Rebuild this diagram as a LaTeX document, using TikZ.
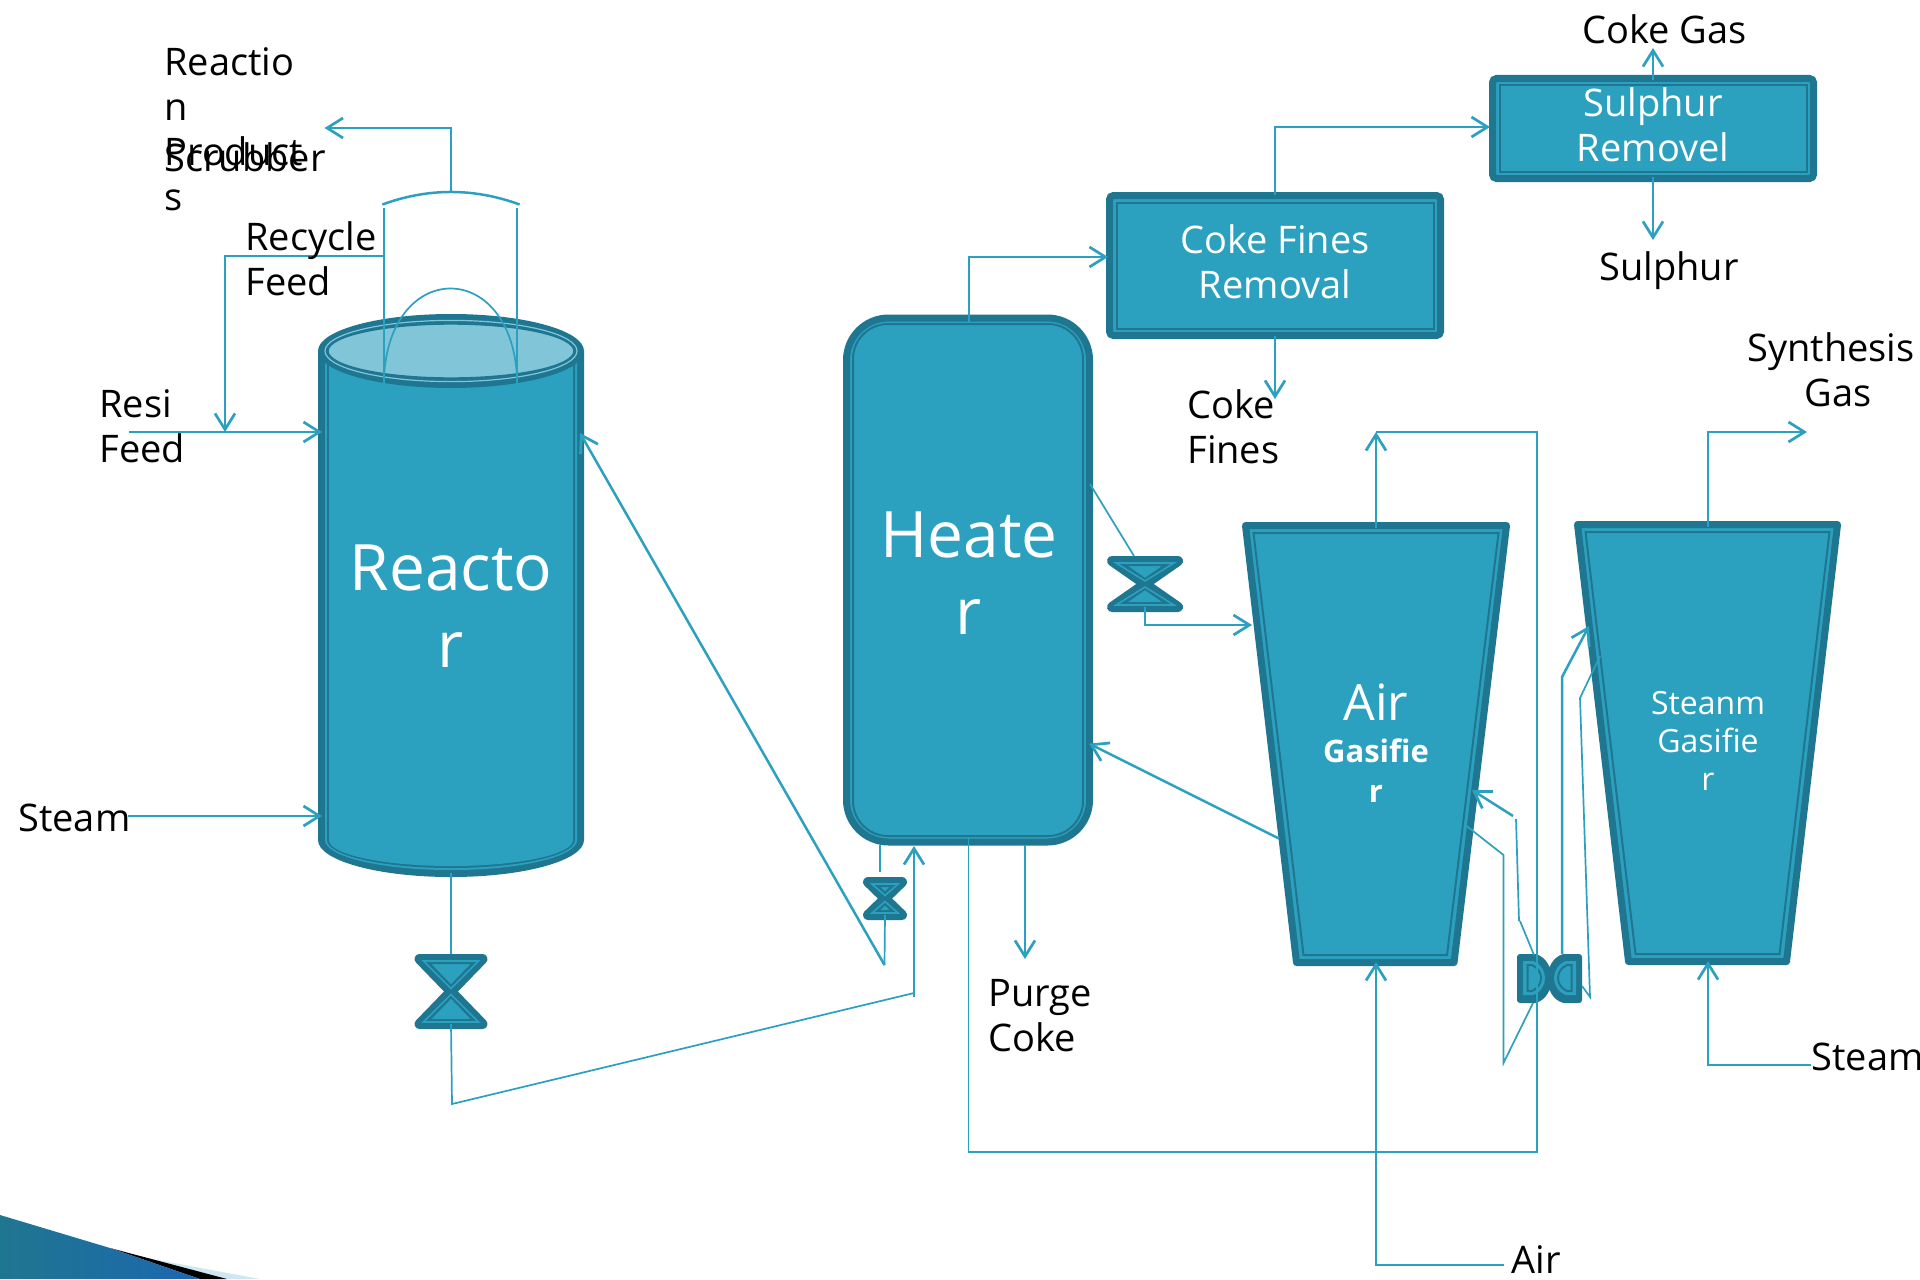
\documentclass[tikz,border=0pt]{standalone}
\usepackage{fontspec}
\setmainfont{Open Sans}
\usetikzlibrary{arrows.meta,calc}
\definecolor{midc}{HTML}{2CA1BF}
\definecolor{darkc}{HTML}{1F7690}
\definecolor{lightc}{HTML}{81C5D9}
\tikzset{
  conn/.style={draw=midc,line width=1.25pt},
  thinconn/.style={draw=midc,line width=.85pt},
  arr/.style={conn,-{Straight Barb[length=8pt,width=10pt,line width=1.35pt]}},
  lbl/.style={text=black,anchor=west,align=left,inner sep=0pt,font=\fontsize{19}{22.5}\selectfont},
  ctr/.style={text=white,align=center,inner sep=0pt},
  boxn/.style={draw=darkc,fill=midc,line width=3.5pt,inner sep=0pt,rounded corners=2pt,minimum width=#1},
  bandline/.style={draw=darkc,line width=1pt},
  bigt/.style={ctr,font=\fontsize{32}{38.5}\selectfont},
  midt/.style={ctr,font=\fontsize{19}{22.5}\selectfont},
  smlt/.style={ctr,font=\fontsize{16}{19}\selectfont},
}
% hourglass valve: name, centre x, centre y, half width, half height
\newcommand{\hourglass}[5]{%
  \coordinate (#1-n) at (#2,#3-#5);
  \coordinate (#1-s) at (#2,#3+#5-5);
  \begin{scope}[shift={(#2,#3)}]
    \path[fill=midc,draw=darkc,line width=5pt,line join=round]
      (-#4+5,-#5+5) -- (#4-5,-#5+5) -- (0,0) -- (#4-5,#5-5) -- (-#4+5,#5-5) -- (0,0) -- cycle;
    \path[draw=midc,line width=.8pt]
      (-#4+9,-#5+7) -- (#4-9,-#5+7) -- (0,-3) -- cycle
      (-#4+9,#5-7) -- (#4-9,#5-7) -- (0,3) -- cycle;
  \end{scope}}
% funnel vessel outline: top-left x, top-right x, bottom-right x, bottom-left x, top y, bottom y
\newcommand{\funnel}[6]{%
  \path[fill=midc,draw=darkc,line width=3.5pt,line join=round]
    (#1+3.5,#5+3.5) -- (#2-3.5,#5+3.5) -- (#3-3.5,#6-3.5) -- (#4+3.5,#6-3.5) -- cycle;
  \path[bandline]
    (#1+11.5,#5+11) -- (#2-11.5,#5+11) -- (#3-10.5,#6-11) -- (#4+10.5,#6-11) -- cycle;
}
\begin{document}
\begin{tikzpicture}[x=.5pt,y=-.5pt]
\useasboundingbox[fill=white] (0,0) rectangle (1920,1279);

% corner swoosh
\fill[lightc!40] (147,1258) -- (260,1279) -- (200,1279) -- cycle;
\fill[black] (110,1248) -- (227,1279) -- (200,1279) -- cycle;
\shade[left color=darkc,right color=midc!75!blue!85!black] (0,1215) -- (110,1248) -- (200,1279) -- (0,1279) -- cycle;

% reactor
\path[fill=darkc] (318,351) -- (318,840) .. controls (318,860.4) and (377.5,877) .. (451,877)
  .. controls (524.5,877) and (584,860.4) .. (584,840) -- (584,351) -- cycle;
\path[fill=midc] (325,351) -- (325,840) .. controls (325,856.6) and (381,870) .. (451,870)
  .. controls (521,870) and (577,856.6) .. (577,840) -- (577,351) -- cycle;
\path[fill=darkc] (327,351) -- (327,840) .. controls (327,855.5) and (382,868) .. (451,868)
  .. controls (520,868) and (575,855.5) .. (575,840) -- (575,351) -- cycle;
\path[fill=midc] (329,351) -- (329,840) .. controls (329,854.4) and (383,866) .. (451,866)
  .. controls (519,866) and (573,854.4) .. (573,840) -- (573,351) -- cycle;
\fill[darkc] (451,351) ellipse [x radius=66.5pt,y radius=18.5pt];
\draw[lightc,line width=.6pt] (451,351) ellipse [x radius=63pt,y radius=15.3pt];
\fill[lightc] (451,351) ellipse [x radius=61.5pt,y radius=13.5pt];
\draw[darkc,line width=.7pt] (451,351) ellipse [x radius=61.5pt,y radius=13.5pt];
\node[bigt] (reactor) at (451,606) {Reacto\\r};

% heater
\node[draw=darkc,fill=midc,line width=3.5pt,rounded corners=21pt,minimum width=121.5pt,minimum height=262pt,inner sep=0pt] (heater) at (968,580) {};
\draw[bandline,rounded corners=17.5pt] (853,324) rectangle (1083,836);
\node[bigt] at (969,573) {Heate\\r};

% boxes
\node[boxn=165.5pt,minimum height=70pt] (cfr) at (1275,265.5) {};
\draw[bandline] (1116.5,202.5) rectangle (1433.5,328.5);
\node[midt] at (1275,262) {Coke Fines\\Removal};
\node[boxn=160.5pt,minimum height=50pt] (srm) at (1653,128.5) {};
\draw[bandline] (1499.5,85.5) rectangle (1806.5,171.5);
\node[midt] at (1653,125) {Sulphur\\Removel};

% gasifiers
\funnel{1242}{1510}{1457.5}{1293}{522}{966}
\funnel{1574}{1841}{1790}{1625}{521}{965}
\node[ctr,font=\fontsize{25}{30}\selectfont] (airg) at (1376,702) {Air};
\node[ctr,font=\fontsize{15.5}{20}\selectfont\bfseries] at (1376,771) {Gasifie\\r};
\node[smlt] (steamg) at (1708,741) {Steanm\\Gasifie\\r};

% valves
\hourglass{va}{451}{991.5}{36.5}{37.5}
\hourglass{vb}{885}{898.5}{22}{21.5}
\hourglass{vc}{1145}{584}{38}{28}
% sideways valve
\path[fill=darkc,draw=darkc,line width=3pt,line join=round]
  (1520,957) -- (1535,957) .. controls (1553,962) and (1553,995) .. (1535,1000) -- (1520,1000) -- cycle
  (1579,957) -- (1564,957) .. controls (1546,962) and (1546,995) .. (1564,1000) -- (1579,1000) -- cycle;
\path[fill=midc] (1523,961) -- (1533,961) .. controls (1549,967) and (1549,989) .. (1533,995) -- (1523,995) -- cycle
  (1576,961) -- (1566,961) .. controls (1550,967) and (1550,989) .. (1566,995) -- (1576,995) -- cycle;
\path[fill=midc,bandline] (1527.5,965) -- (1532,965) .. controls (1544,970) and (1544,986) .. (1532,991) -- (1527.5,991) -- cycle
  (1571.5,965) -- (1567,965) .. controls (1555,970) and (1555,986) .. (1567,991) -- (1571.5,991) -- cycle;
\coordinate (vd-nw) at (1534,955); \coordinate (vd-ne) at (1562,954);
\coordinate (vd-sw) at (1533,1003); \coordinate (vd-e) at (1582,986);

% ports
\coordinate (capL) at (382.4,204.5); \coordinate (capR) at (519.6,204.5); \coordinate (capT) at (451,192);
\coordinate (prodC) at (451,128); \coordinate (prodE) at (324.5,128);
\coordinate (pipeLt) at (384,208); \coordinate (pipeLb) at (384,384);
\coordinate (pipeRt) at (517,208); \coordinate (pipeRb) at (517,384);
\coordinate (recA) at (384,256); \coordinate (recB) at (225,256); \coordinate (recC) at (225,432);
\coordinate (feedS) at (129,432); \coordinate (feedE) at (322,432);
\coordinate (steamS) at (128,816); \coordinate (steamE) at (322,816);
\coordinate (rBot) at (451,873); \coordinate (kneeA) at (452,1104); \coordinate (kneeB) at (914,993);
\coordinate (upS) at (914,997); \coordinate (upE) at (914,846);
\coordinate (backS) at (884.5,965); \coordinate (backE) at (580,433);
\coordinate (hb1) at (880,845); \coordinate (hb2) at (880,872);
\coordinate (purgeS) at (1025,845); \coordinate (purgeE) at (1025,959);
\coordinate (loopA) at (968.6,838); \coordinate (loopB) at (968.6,1152);
\coordinate (loopC) at (1537,1152); \coordinate (loopD) at (1537,432); \coordinate (loopE) at (1376,432);
\coordinate (hTop) at (969,322); \coordinate (hTopK) at (969,257); \coordinate (hTopE) at (1108,257);
\coordinate (cfT) at (1275,195); \coordinate (cfK) at (1275,127); \coordinate (cfE) at (1490,127);
\coordinate (cfB) at (1275,336); \coordinate (cfBE) at (1275,399);
\coordinate (sT) at (1653,80); \coordinate (sTE) at (1653,48);
\coordinate (sB) at (1653,177); \coordinate (sBE) at (1653,240);
\coordinate (agT) at (1376,528);
\coordinate (sgT) at (1708,527); \coordinate (sgK) at (1708,432); \coordinate (sgE) at (1807,432);
\coordinate (stS) at (1811,1065); \coordinate (stK) at (1708,1065); \coordinate (stE) at (1708,961);
\coordinate (aS) at (1504,1265); \coordinate (aK) at (1376,1265); \coordinate (aE) at (1376,962);
\coordinate (hR) at (1090,484); \coordinate (vcI) at (1134,556); \coordinate (vcK) at (1145,625); \coordinate (vcE) at (1252,625);
\coordinate (agL) at (1279,838.6); \coordinate (hRE) at (1089,743.6);
\coordinate (a1) at (1513,816); \coordinate (a1E) at (1472,790);
\coordinate (a2) at (1516,819); \coordinate (a3) at (1519,921); \coordinate (a4) at (1520,921);
\coordinate (b1) at (1464,824); \coordinate (b2) at (1503.5,855); \coordinate (b3) at (1503.5,1063);
\coordinate (c1) at (1562,677); \coordinate (c1E) at (1589,626);
\coordinate (d1) at (1590,997); \coordinate (d2) at (1580,698); \coordinate (d3) at (1600,656);

% reactor top piping
\draw[conn] (capL) .. controls (428.1,187.8) and (473.9,187.8) .. (capR);
\draw[thinconn] (pipeLt) -- (pipeLb);
\draw[thinconn] (pipeRt) -- (pipeRb);
\draw[thinconn] (384,377) .. controls (390,259) and (511,259) .. (517,377);
\draw[arr] (capT) -- (prodC) -- (prodE);
\draw[arr] (recA) -- (recB) -- (recC);
\draw[arr] (feedS) -- (feedE);
\draw[arr] (steamS) -- (steamE);

% reactor to heater
\draw[thinconn] (rBot) -- (va-n);
\draw[thinconn] (va-s) -- (kneeA) -- (kneeB);
\draw[arr] (upS) -- (upE);
\draw[arr] (backS) -- (backE);
\draw[thinconn] (hb1) -- (hb2);
\draw[thinconn] (vb-s) -- (backS);
\draw[arr] (purgeS) -- (purgeE);
\draw[thinconn] (loopA) -- (loopB) -- (loopC) -- (loopD) -- (loopE);

% heater to boxes
\draw[arr] (hTop) -- (hTopK) -- (hTopE);
\draw[arr] (cfT) -- (cfK) -- (cfE);
\draw[arr] (cfB) -- (cfBE);
\draw[arr] (sT) -- (sTE);
\draw[arr] (sB) -- (sBE);

% gasifiers
\draw[arr] (agT) -- (loopE);
\draw[arr] (sgT) -- (sgK) -- (sgE);
\draw[arr] (stS) -- (stK) -- (stE);
\draw[arr] (aS) -- (aK) -- (aE);
\draw[thinconn] (hR) -- (vcI);
\draw[arr] (vc-s) -- (vcK) -- (vcE);
\draw[arr] (agL) -- (hRE);
\draw[arr] (a1) -- (a1E);
\draw[thinconn] (a2) -- (a3);
\draw[thinconn] (a4) -- (vd-nw);
\draw[thinconn] (b1) -- (b2) -- (b3) -- (vd-sw);
\draw[arr] (vd-ne) -- (c1) -- (c1E);
\draw[thinconn] (vd-e) -- (d1) -- (d2) -- (d3);

% labels
\node[lbl] (tReact) at (164,129) {Reactio\\n\\Product\\s};
\node[lbl] (tScrub) at (164,157) {Scrubber};
\node[lbl] (tRec) at (245,259) {Recycle\\Feed};
\node[lbl] (tResi) at (99,426) {Resi\\Feed};
\node[lbl] (tSteamA) at (18,818) {Steam};
\node[lbl] (tCG) at (1582,29) {Coke Gas};
\node[lbl] (tSul) at (1599,271) {Sulphur};
\node[lbl] (tCF) at (1187,427) {Coke\\Fines};
\node[lbl,align=center] (tSyn) at (1747,370) {Synthesis\\\hspace*{7pt}Gas};
\node[lbl] (tSteamB) at (1811,1057) {Steam};
\node[lbl] (tPC) at (988,1016) {Purge\\Coke};
\node[lbl] (tAir) at (1511,1260) {Air};
\end{tikzpicture}
\end{document}
